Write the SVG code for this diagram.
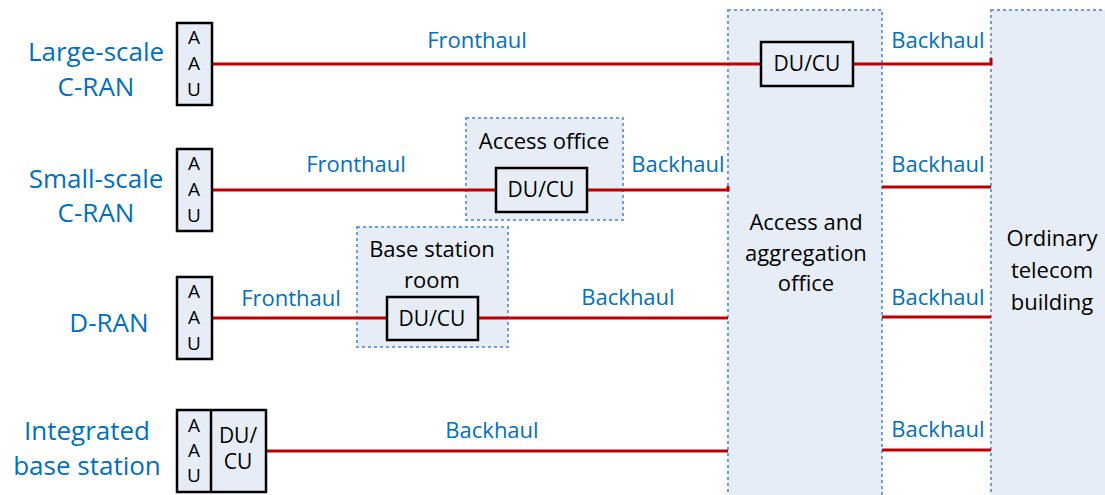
<svg xmlns="http://www.w3.org/2000/svg" width="1105" height="495" viewBox="0 0 1105 495">
<style>
.lbl{font-family:"Open Sans","DejaVu Sans",sans-serif;fill:#0070C0;text-anchor:middle}
.big{font-size:26px}
.lk{font-size:22px}
.blk{font-family:"Open Sans","DejaVu Sans",sans-serif;fill:#000;text-anchor:middle}
.box{fill:#E7EDF7;stroke:#000;stroke-width:2.5}
.zone{fill:#E7EDF7;stroke:#6D9EEB;stroke-width:2;stroke-dasharray:3 3}
.ln{stroke:#C00000;stroke-width:3;fill:none}
</style>
<rect width="1105" height="495" fill="#fff"/>
<g id="agg-office">
<rect class="zone" x="728" y="10" width="154" height="495"/>
<text class="blk" font-size="22" x="806" y="230">Access and</text>
<text class="blk" font-size="22" x="806" y="261">aggregation</text>
<text class="blk" font-size="22" x="806" y="291">office</text>
</g>
<g id="telecom-building">
<rect class="zone" x="991" y="10" width="130" height="495"/>
<text class="blk" font-size="22" x="1052" y="246">Ordinary</text>
<text class="blk" font-size="22" x="1052" y="278">telecom</text>
<text class="blk" font-size="22" x="1052" y="310">building</text>
</g>
<g id="access-office">
<rect class="zone" x="466" y="118" width="157" height="102"/>
<text class="blk" font-size="22" x="544" y="149">Access office</text>
</g>
<g id="bs-room">
<rect class="zone" x="357" y="227" width="151" height="120"/>
<text class="blk" font-size="22" x="432" y="257">Base station</text>
<text class="blk" font-size="22" x="432" y="288">room</text>
</g>
<g id="connectors">
<path class="ln" d="M212 64H761"/>
<path class="ln" d="M853 64H991V58"/>
<path class="ln" d="M212 190H496"/>
<path class="ln" d="M587 190H728V186"/>
<path class="ln" d="M882 187H991"/>
<path class="ln" d="M212 318H387"/>
<path class="ln" d="M478 318H728"/>
<path class="ln" d="M882 317H991"/>
<path class="ln" d="M266 451H728"/>
<path class="ln" d="M882 450H991"/>
</g>
<g id="link-labels">
<text class="lbl lk" x="477" y="48">Fronthaul</text>
<text class="lbl lk" x="938" y="48">Backhaul</text>
<text class="lbl lk" x="356" y="172">Fronthaul</text>
<text class="lbl lk" x="678" y="172">Backhaul</text>
<text class="lbl lk" x="938" y="172">Backhaul</text>
<text class="lbl lk" x="291" y="306">Fronthaul</text>
<text class="lbl lk" x="628" y="305">Backhaul</text>
<text class="lbl lk" x="938" y="305">Backhaul</text>
<text class="lbl lk" x="492" y="438">Backhaul</text>
<text class="lbl lk" x="938" y="437">Backhaul</text>
</g>
<g id="row-labels">
<text class="lbl big" x="96" y="61">Large-scale</text>
<text class="lbl big" x="96" y="96">C-RAN</text>
<text class="lbl big" x="96" y="188">Small-scale</text>
<text class="lbl big" x="96" y="222">C-RAN</text>
<text class="lbl big" x="109" y="332">D-RAN</text>
<text class="lbl big" x="87" y="440">Integrated</text>
<text class="lbl big" x="87" y="475">base station</text>
</g>
<g id="aau-1">
<rect class="box" x="177" y="23" width="35" height="82"/>
<text class="blk" font-size="19" x="194" y="44">A</text>
<text class="blk" font-size="19" x="194" y="70">A</text>
<text class="blk" font-size="19" x="194" y="96">U</text>
</g>
<g id="aau-2">
<rect class="box" x="177" y="149" width="35" height="82"/>
<text class="blk" font-size="19" x="194" y="170">A</text>
<text class="blk" font-size="19" x="194" y="196">A</text>
<text class="blk" font-size="19" x="194" y="222">U</text>
</g>
<g id="aau-3">
<rect class="box" x="177" y="277" width="35" height="82"/>
<text class="blk" font-size="19" x="194" y="298">A</text>
<text class="blk" font-size="19" x="194" y="324">A</text>
<text class="blk" font-size="19" x="194" y="350">U</text>
</g>
<g id="integrated-bs">
<rect class="box" x="177" y="410" width="89" height="82"/>
<line x1="211" y1="410" x2="211" y2="492" stroke="#000" stroke-width="2.5"/>
<text class="blk" font-size="19" x="194" y="432">A</text>
<text class="blk" font-size="19" x="194" y="457">A</text>
<text class="blk" font-size="19" x="194" y="482">U</text>
<text class="blk" font-size="21" x="238" y="443">DU/</text>
<text class="blk" font-size="21" x="238" y="469">CU</text>
</g>
<g id="ducu-1">
<rect class="box" x="761" y="42" width="92" height="44"/>
<text class="blk" font-size="21" x="807" y="71">DU/CU</text>
</g>
<g id="ducu-2">
<rect class="box" x="496" y="168" width="91" height="44"/>
<text class="blk" font-size="21" x="541" y="197">DU/CU</text>
</g>
<g id="ducu-3">
<rect class="box" x="387" y="297" width="91" height="43"/>
<text class="blk" font-size="21" x="432" y="326">DU/CU</text>
</g>
</svg>
